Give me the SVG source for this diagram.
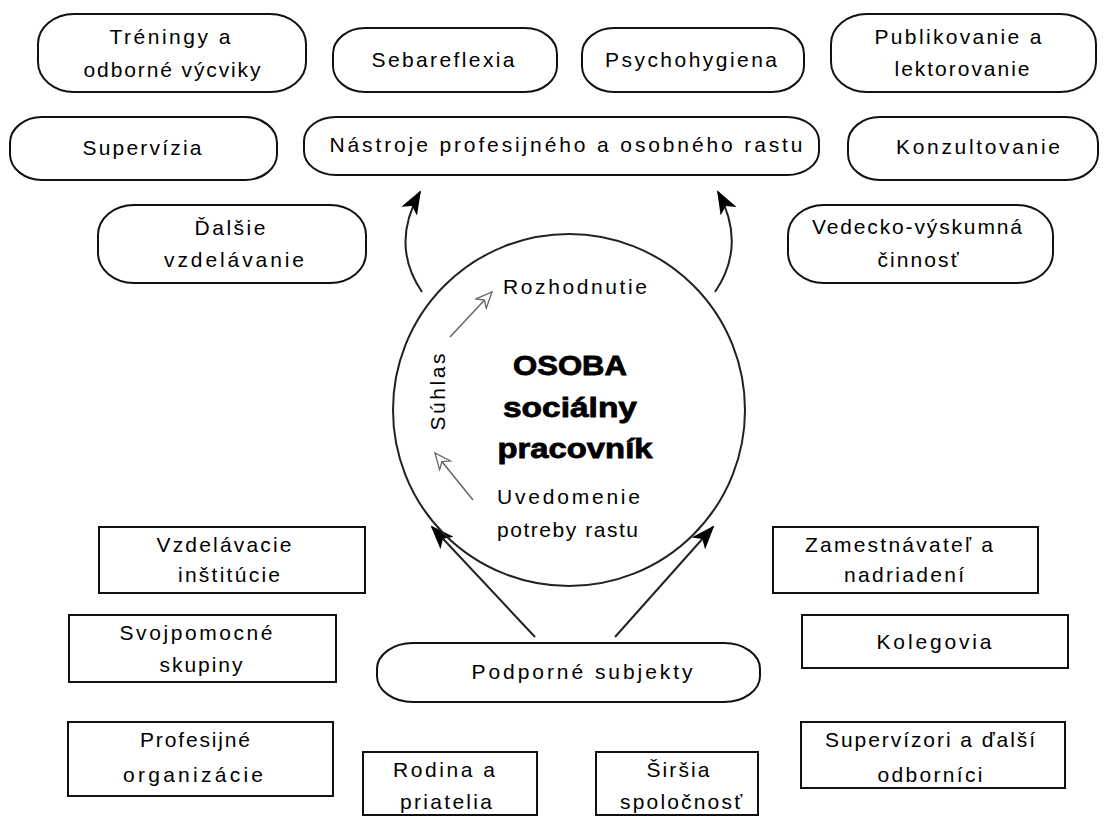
<svg xmlns="http://www.w3.org/2000/svg" width="1104" height="817" viewBox="0 0 1104 817">
<style>
.r{fill:#fff;stroke:#111;stroke-width:2}
.b{fill:#fff;stroke:#111;stroke-width:2}
text{font-family:"Liberation Sans",Arial,sans-serif;font-size:21px;fill:#000;text-anchor:middle}
.st{text-anchor:start}
.bold{font-weight:900;font-size:27px;stroke:#000;stroke-width:0.8}
.c{fill:none;stroke:#222;stroke-width:2}
.h{fill:none;stroke:#666;stroke-width:1.5}
</style>
<defs>
<marker id="ah" viewBox="0 0 24 18" refX="22" refY="9" markerWidth="24" markerHeight="18" markerUnits="userSpaceOnUse" orient="auto">
<path d="M0,0 L24,9 L0,18 L6,9 z" fill="#000"/>
</marker>
<marker id="ho" viewBox="0 0 18 16" refX="17" refY="8" markerWidth="18" markerHeight="16" markerUnits="userSpaceOnUse" orient="auto">
<path d="M1,1 L17,8 L1,15 L6,8 z" fill="#fff" stroke="#666" stroke-width="1.3"/>
</marker>
</defs>
<rect width="1104" height="817" fill="#fff"/>

<g id="connectors">
<path class="c" d="M422,292 Q390,245 420,192" marker-end="url(#ah)"/>
<path class="c" d="M715,292 Q747,245 718,192" marker-end="url(#ah)"/>
<path class="c" d="M535,637 L432,527" marker-end="url(#ah)"/>
<path class="c" d="M615,637 L713,527" marker-end="url(#ah)"/>
<path class="h" d="M450,337 L492,292" marker-end="url(#ho)"/>
<path class="h" d="M473,500 L435,453" marker-end="url(#ho)"/>
</g>

<g id="n-osoba">
<circle cx="569" cy="410" r="176" fill="none" stroke="#222" stroke-width="2"/>
<text x="570" y="375" class="bold" textLength="114" lengthAdjust="spacingAndGlyphs">OSOBA</text>
<text x="570" y="417" class="bold" textLength="134" lengthAdjust="spacingAndGlyphs">sociálny</text>
<text x="575" y="458" class="bold" textLength="155" lengthAdjust="spacingAndGlyphs">pracovník</text>
<text x="503" y="294" class="st" textLength="144" lengthAdjust="spacing">Rozhodnutie</text>
<text x="497" y="504" class="st" textLength="143" lengthAdjust="spacing">Uvedomenie</text>
<text x="497" y="537" class="st" textLength="141" lengthAdjust="spacing">potreby rastu</text>
<text transform="translate(445,392) rotate(-90)" textLength="77" lengthAdjust="spacing">Súhlas</text>
</g>

<g id="n-treningy">
<rect class="r" x="38" y="14" width="268" height="78" rx="36" ry="30"/>
<text x="170" y="44" textLength="121" lengthAdjust="spacing">Tréningy a</text>
<text x="172" y="77" textLength="177" lengthAdjust="spacing">odborné výcviky</text>
</g>
<g id="n-sebareflexia">
<rect class="r" x="333" y="28" width="224" height="64" rx="32" ry="26"/>
<text x="443" y="67" textLength="143" lengthAdjust="spacing">Sebareflexia</text>
</g>
<g id="n-psychohygiena">
<rect class="r" x="582" y="28" width="222" height="64" rx="32" ry="26"/>
<text x="691" y="67" textLength="172" lengthAdjust="spacing">Psychohygiena</text>
</g>
<g id="n-publikovanie">
<rect class="r" x="831" y="14" width="265" height="78" rx="36" ry="30"/>
<text x="958" y="44" textLength="167" lengthAdjust="spacing">Publikovanie a</text>
<text x="962" y="76" textLength="135" lengthAdjust="spacing">lektorovanie</text>
</g>
<g id="n-supervizia">
<rect class="r" x="10" y="117" width="267" height="63" rx="32" ry="26"/>
<text x="142" y="155" textLength="119" lengthAdjust="spacing">Supervízia</text>
</g>
<g id="n-nastroje">
<rect class="r" x="304" y="117" width="515" height="58" rx="32" ry="24"/>
<text x="566" y="152" textLength="473" lengthAdjust="spacing">Nástroje profesijného a osobného rastu</text>
</g>
<g id="n-konzultovanie">
<rect class="r" x="848" y="117" width="250" height="63" rx="32" ry="26"/>
<text x="978" y="154" textLength="164" lengthAdjust="spacing">Konzultovanie</text>
</g>
<g id="n-dalsie">
<rect class="r" x="98" y="205" width="268" height="78" rx="36" ry="30"/>
<text x="230" y="235" textLength="71" lengthAdjust="spacing">Ďalšie</text>
<text x="234" y="267" textLength="140" lengthAdjust="spacing">vzdelávanie</text>
</g>
<g id="n-vedecko">
<rect class="r" x="788" y="205" width="265" height="78" rx="36" ry="30"/>
<text x="917" y="234" textLength="210" lengthAdjust="spacing">Vedecko-výskumná</text>
<text x="918" y="267" textLength="81" lengthAdjust="spacing">činnosť</text>
</g>
<g id="n-podporne">
<rect class="r" x="377" y="643" width="383" height="59" rx="36" ry="26"/>
<text x="582" y="679" textLength="221" lengthAdjust="spacing">Podporné subjekty</text>
</g>

<g id="n-vzdelavacie">
<rect class="b" x="99" y="527" width="266" height="66"/>
<text x="224" y="552" textLength="135" lengthAdjust="spacing">Vzdelávacie</text>
<text x="229" y="582" textLength="102" lengthAdjust="spacing">inštitúcie</text>
</g>
<g id="n-svojpomocne">
<rect class="b" x="69" y="615" width="267" height="67"/>
<text x="196" y="640" textLength="153" lengthAdjust="spacing">Svojpomocné</text>
<text x="201" y="672" textLength="83" lengthAdjust="spacing">skupiny</text>
</g>
<g id="n-profesijne">
<rect class="b" x="68" y="722" width="265" height="74"/>
<text x="195" y="747" textLength="110" lengthAdjust="spacing">Profesijné</text>
<text x="193" y="782" textLength="140" lengthAdjust="spacing">organizácie</text>
</g>
<g id="n-rodina">
<rect class="b" x="363" y="752" width="174" height="63"/>
<text x="444" y="777" textLength="102" lengthAdjust="spacing">Rodina a</text>
<text x="446" y="809" textLength="92" lengthAdjust="spacing">priatelia</text>
</g>
<g id="n-sirsia">
<rect class="b" x="596" y="752" width="162" height="63"/>
<text x="678" y="777" textLength="63" lengthAdjust="spacing">Širšia</text>
<text x="681" y="809" textLength="122" lengthAdjust="spacing">spoločnosť</text>
</g>
<g id="n-zamestnavatel">
<rect class="b" x="773" y="527" width="265" height="66"/>
<text x="899" y="552" textLength="188" lengthAdjust="spacing">Zamestnávateľ a</text>
<text x="904" y="582" textLength="120" lengthAdjust="spacing">nadriadení</text>
</g>
<g id="n-kolegovia">
<rect class="b" x="802" y="615" width="266" height="53"/>
<text x="934" y="649" textLength="115" lengthAdjust="spacing">Kolegovia</text>
</g>
<g id="n-supervizori">
<rect class="b" x="801" y="722" width="264" height="66"/>
<text x="930" y="747" textLength="210" lengthAdjust="spacing">Supervízori a ďalší</text>
<text x="930" y="782" textLength="105" lengthAdjust="spacing">odborníci</text>
</g>
</svg>
